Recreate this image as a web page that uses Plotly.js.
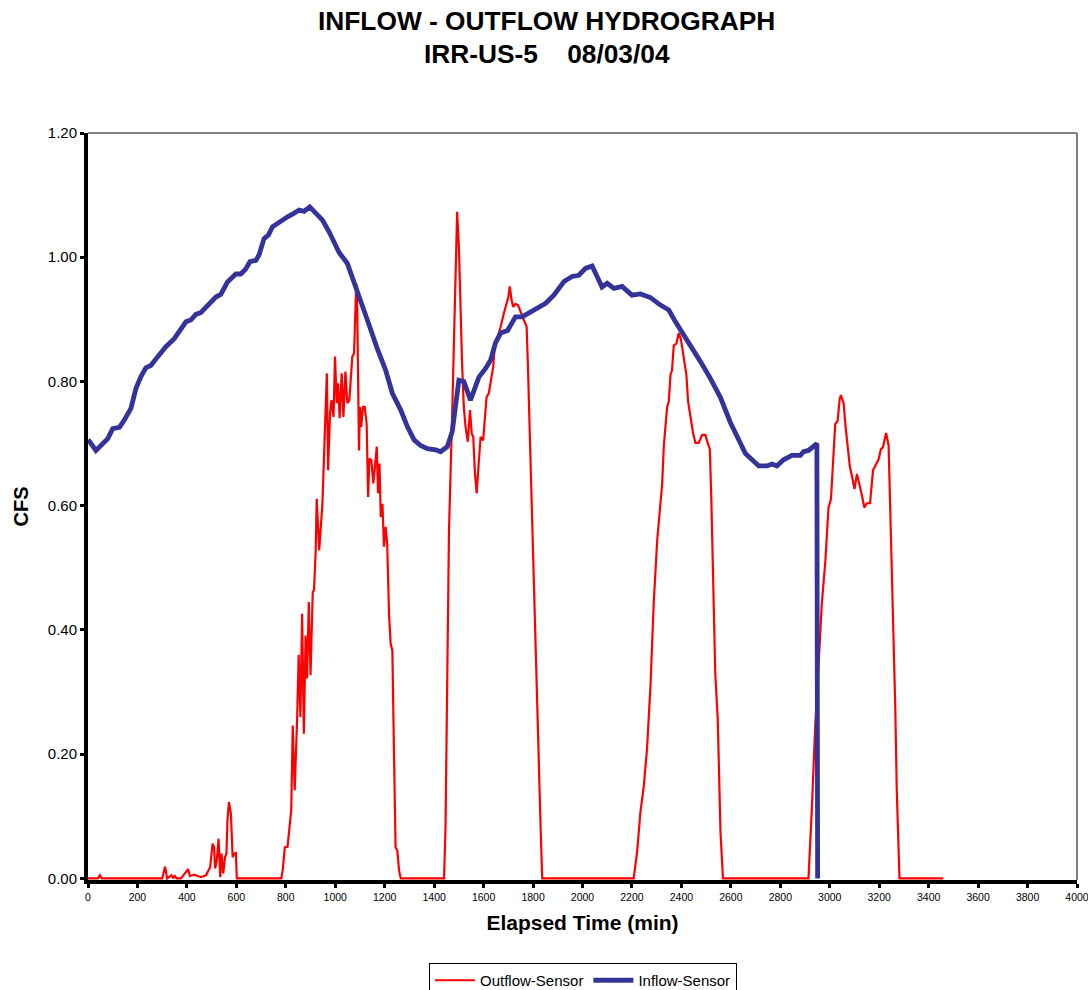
<!DOCTYPE html>
<html>
<head>
<meta charset="utf-8">
<script src="https://cdn.plot.ly/plotly-3.0.1.min.js"></script>
<style>
html,body{margin:0;padding:0;background:#fff;}
#chart{width:1088px;height:990px;}
</style>
</head>
<body>
<div id="chart"></div>
<script>
// ---- Data ----
const outflowTime = [0,40,48,56,300,312,320,338,345,350,358,376,405,412,429,457,477,486,494,504,510,514,521,528,535,540,547,554,560,564,570,578,585,591,598,602,
782,788,796,807,813,818,822,828,836,846,852,859,866,873,880,886,893,900,909,914,921,925,935,948,955,966,971,979,985,993,999,1006,1011,1018,1026,1033,1041,1049,1057,1069,1076,1081,1085,1089,1092,1096,1100,1105,1112,1119,1127,1133,1138,1146,1154,1160,1168,1173,1179,1184,1191,1197,1204,1210,1218,1224,1231,1238,1244,1251,1258,1265,
1440,1446,1449,1460,1473,1480,1487,1493,1500,1507,1513,1520,1527,1536,1545,1552,1558,1565,1572,1581,1588,1598,1604,1612,1621,1631,1639,1645,1655,1669,1682,1693,1700,1706,1713,1720,1729,1739,1750,1763,1774,1779,1788,1797,1803,1814,1830,1837,
2207,2221,2234,2248,2261,2275,2288,2302,2312,2322,2329,2342,2349,2356,2362,2369,2380,2389,2398,2409,2420,2427,2436,2447,2457,2470,2484,2497,2504,2515,2521,2528,2537,2547,2558,2568,
2914,2928,2941,2955,2968,2982,2995,3005,3013,3022,3032,3040,3045,3056,3063,3072,3081,3090,3100,3110,3121,3130,3140,3150,3163,3175,3188,3197,3207,3215,3222,3228,3238,3244,3251,3258,3265,3271,3282,3459];
const outflowCfs = [0,0,0.005,0,0,0.019,0,0.005,0,0.005,0,0,0.015,0.004,0.006,0.002,0.005,0.013,0.018,0.056,0.05,0.016,0.029,0.064,0.002,0.04,0.008,0.034,0.04,0.093,0.123,0.104,0.034,0.04,0.041,0,
0,0.015,0.05,0.051,0.072,0.099,0.11,0.246,0.142,0.26,0.36,0.26,0.426,0.233,0.391,0.322,0.445,0.327,0.461,0.464,0.528,0.611,0.528,0.603,0.70,0.813,0.657,0.749,0.77,0.743,0.84,0.765,0.797,0.741,0.813,0.743,0.816,0.765,0.77,0.84,0.845,0.904,0.958,0.915,0.759,0.689,0.759,0.727,0.759,0.759,0.732,0.614,0.676,0.673,0.636,0.668,0.695,0.62,0.668,0.582,0.603,0.534,0.566,0.539,0.421,0.378,0.367,0.19,0.05,0.045,0.013,0,
0,0.083,0.19,0.56,0.749,0.856,0.99,1.073,1.017,0.91,0.829,0.759,0.727,0.703,0.754,0.716,0.711,0.652,0.62,0.673,0.711,0.705,0.738,0.775,0.781,0.805,0.824,0.856,0.869,0.888,0.91,0.926,0.936,0.953,0.931,0.92,0.925,0.923,0.912,0.899,0.888,0.829,0.695,0.56,0.45,0.29,0.09,0,
0,0.043,0.106,0.149,0.209,0.31,0.443,0.544,0.591,0.634,0.697,0.758,0.768,0.811,0.818,0.858,0.861,0.878,0.868,0.838,0.811,0.768,0.744,0.717,0.701,0.701,0.714,0.714,0.704,0.691,0.611,0.477,0.33,0.256,0.076,0,
0,0.116,0.243,0.344,0.443,0.51,0.597,0.611,0.671,0.731,0.737,0.771,0.778,0.765,0.731,0.697,0.664,0.647,0.627,0.651,0.634,0.617,0.597,0.604,0.604,0.657,0.667,0.674,0.691,0.694,0.707,0.717,0.697,0.611,0.477,0.37,0.276,0.143,0,0];

const inflowTime = [0,5,32,59,80,100,127,147,174,194,214,234,255,282,315,349,383,396,416,436,457,484,517,537,564,598,618,638,655,679,692,712,730,746,773,807,834,854,874,897,921,948,975,999,1015,1049,1076,1103,1137,1170,1204,1231,1265,1292,1319,1345,1373,1406,1426,1453,1473,1500,1520,1547,1581,1608,1628,1648,1669,1697,1729,1756,1802,1851,1884,1925,1958,1985,2012,2039,2059,2079,2100,2127,2160,2200,2234,2275,2315,2349,2376,2409,2443,2477,2517,2558,2598,2625,2659,2713,2746,2766,2786,2813,2847,2881,2894,2914,2941,2948,2951];
const inflowCfs = [0.706,0.704,0.689,0.70,0.708,0.724,0.726,0.738,0.757,0.789,0.808,0.822,0.826,0.84,0.856,0.869,0.888,0.896,0.899,0.908,0.911,0.923,0.936,0.94,0.96,0.973,0.973,0.981,0.993,0.995,1.004,1.03,1.036,1.049,1.057,1.065,1.071,1.076,1.074,1.081,1.071,1.06,1.041,1.02,1.008,0.99,0.958,0.926,0.891,0.853,0.818,0.781,0.754,0.727,0.706,0.697,0.692,0.69,0.687,0.695,0.719,0.802,0.80,0.77,0.807,0.821,0.834,0.862,0.878,0.882,0.904,0.904,0.915,0.926,0.939,0.961,0.969,0.971,0.982,0.986,0.969,0.952,0.958,0.95,0.953,0.939,0.941,0.935,0.923,0.915,0.896,0.876,0.856,0.832,0.805,0.774,0.734,0.711,0.684,0.664,0.664,0.667,0.664,0.674,0.681,0.681,0.687,0.689,0.699,0.70,0];

const xTicks = [0,200,400,600,800,1000,1200,1400,1600,1800,2000,2200,2400,2600,2800,3000,3200,3400,3600,3800,4000];
const yTicks = [0,0.2,0.4,0.6,0.8,1.0,1.2];
const yTickLabels = ["0.00","0.20","0.40","0.60","0.80","1.00","1.20"];

const FONT = '"Liberation Sans", Arial, Helvetica, sans-serif';

const traces = [
  {x: outflowTime, y: outflowCfs, type: 'scatter', mode: 'lines', name: 'Outflow-Sensor',
   line: {color: '#FF0000', width: 2.2}},
  {x: inflowTime, y: inflowCfs, type: 'scatter', mode: 'lines', name: 'Inflow-Sensor',
   line: {color: '#333399', width: 4.8}}
];

const layout = {
  width: 1088, height: 990,
  margin: {l: 88, r: 11, t: 133, b: 110, pad: 0, autoexpand: false},
  paper_bgcolor: '#ffffff', plot_bgcolor: '#ffffff',
  font: {family: FONT, color: '#000'},
  showlegend: true,
  legend: {orientation: 'h', x: 583/1088, xref: 'container', xanchor: 'center',
           y: 1 - 963/990, yref: 'container', yanchor: 'top',
           bordercolor: '#000', borderwidth: 1, font: {family: FONT, size: 15, color: '#000'},
           traceorder: 'normal', itemwidth: 40},
  xaxis: {range: [0, 4000], tickvals: xTicks, ticktext: xTicks.map(String),
          ticks: 'outside', ticklen: 4, tickwidth: 3, tickcolor: '#000',
          showline: true, linecolor: '#000', linewidth: 4, showgrid: false, zeroline: false,
          layer: 'below traces', ticklabeloverflow: 'allow',
          tickfont: {family: FONT, size: 10.5, color: '#000'},
          title: {text: '<b>Elapsed Time (min)</b>', font: {family: FONT, size: 21, color: '#000'}, standoff: 15}},
  yaxis: {range: [-0.0025, 1.2], tickvals: yTicks, ticktext: yTickLabels,
          ticks: 'outside', ticklen: 4, tickwidth: 3, tickcolor: '#000',
          showline: true, linecolor: '#000', linewidth: 4, showgrid: false, zeroline: false,
          layer: 'below traces', ticklabeloverflow: 'allow',
          tickfont: {family: FONT, size: 15, color: '#000'},
          title: {text: '<b>CFS</b>', font: {family: FONT, size: 20, color: '#000'}, standoff: 15}},
  shapes: [
    {type: 'line', xref: 'paper', yref: 'paper', x0: 0, x1: 1, y0: 1, y1: 1, line: {color: '#808080', width: 2}, layer: 'below'},
    {type: 'line', xref: 'paper', yref: 'paper', x0: 1, x1: 1, y0: 0, y1: 1, line: {color: '#808080', width: 2}, layer: 'below'}
  ],
  annotations: [
    {text: '<b>INFLOW - OUTFLOW HYDROGRAPH</b>', xref: 'paper', yref: 'paper', x: 0.464, y: 1 + (133-21)/745,
     xanchor: 'center', yanchor: 'middle', showarrow: false, font: {family: FONT, size: 26.3, color: '#000'}},
    {text: '<b>IRR-US-5\u00a0\u00a0\u00a0 08/03/04</b>', xref: 'paper', yref: 'paper', x: 0.464, y: 1 + (133-54)/745,
     xanchor: 'center', yanchor: 'middle', showarrow: false, font: {family: FONT, size: 26.3, color: '#000'}}
  ]
};

Plotly.newPlot('chart', traces, layout, {displayModeBar: false, staticPlot: true});
</script>
</body>
</html>
